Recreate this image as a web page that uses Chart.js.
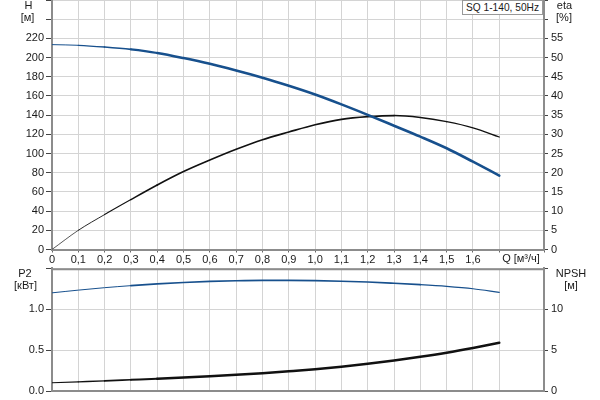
<!DOCTYPE html>
<html>
<head>
<meta charset="utf-8">
<script src="https://cdn.jsdelivr.net/npm/chart.js@4/dist/chart.umd.min.js"></script>
<style>
  html, body { margin:0; padding:0; background:#fff; }
  #wrap { position:relative; width:600px; height:400px; overflow:hidden; font-family:"Liberation Sans", Arial, sans-serif; color:#1a1a1a; }
  canvas { position:absolute; left:0; }
  .t { position:absolute; font-size:11px; line-height:1; white-space:nowrap; transform:translate(-50%,-50%); }
  #legend { position:absolute; left:462px; top:0px; width:81px; height:15px; border:1px solid #999; background:#fff; font-size:10.2px; line-height:13px; padding-left:3px; box-sizing:border-box; white-space:nowrap; }
</style>
</head>
<body>
<div id="wrap">
  <canvas id="top" width="600" height="268" style="top:0;width:600px;height:268px"></canvas>
  <canvas id="bot" width="600" height="140" style="top:260px;width:600px;height:140px"></canvas>
  <div class="t" style="left:28.5px;top:5px">H</div>
  <div class="t" style="left:27.5px;top:17px">[м]</div>
  <div class="t" style="left:564.5px;top:5px">eta</div>
  <div class="t" style="left:564px;top:17px">[%]</div>
  <div class="t" style="left:25px;top:273px">P2</div>
  <div class="t" style="left:25.5px;top:285px">[кВт]</div>
  <div class="t" style="left:571px;top:273px">NPSH</div>
  <div class="t" style="left:571px;top:285px">[м]</div>
  <div class="t" style="left:521px;top:258px">Q [м³/ч]</div>
  <div id="legend">SQ 1-140, 50Hz</div>
</div>
<script>
// ---- data ----
const Q    = [0, 0.1, 0.2, 0.3, 0.4, 0.5, 0.6, 0.7, 0.8, 0.9, 1.0, 1.1, 1.2, 1.3, 1.4, 1.5, 1.6, 1.7];
const H    = [213.5, 212.8, 211, 208.5, 204.8, 199.5, 193.5, 186.5, 179, 170.6, 161.5, 151.2, 140.3, 129, 117.6, 105.5, 91.5, 77];
const ETA  = [0, 5, 9.1, 13, 16.8, 20.3, 23.3, 26.1, 28.6, 30.6, 32.5, 33.9, 34.6, 34.9, 34.4, 33.3, 31.7, 29.3];
const P2   = [1.2, 1.233, 1.263, 1.288, 1.31, 1.327, 1.34, 1.348, 1.352, 1.352, 1.349, 1.342, 1.332, 1.317, 1.3, 1.279, 1.25, 1.206];
const NPSH = [1.0, 1.12, 1.24, 1.37, 1.5, 1.65, 1.81, 1.98, 2.18, 2.41, 2.66, 2.97, 3.33, 3.74, 4.18, 4.68, 5.26, 5.9];

const Q_MAX = 1.87;
const H_MAX = 260, H_LABEL_MAX = 220;
const ETA_MAX = 65, ETA_LABEL_MAX = 55;
const P2_MAX = 1.5, P2_LABEL_MAX = 1.0;
const NPSH_MAX = 15, NPSH_LABEL_MAX = 10;
const Q_LABEL_MAX = 1.6;

const BLUE = '#17508d';
const BLACK = '#111111';
const GRID = '#d4d4d4';
const AXIS = '#8c8c8c';
const FONT = { family: '"Liberation Sans", Arial, sans-serif', size: 11 };

const pts = (ys) => Q.map((q, i) => ({ x: q, y: ys[i] }));

const fixY = (w) => (s) => { s.width = w; s.paddingTop = 0; s.paddingBottom = 0; };
const fixX = (h) => (s) => { s.height = h; s.paddingLeft = 0; s.paddingRight = 0; };

const frame = {
  id: 'frame',
  afterDatasetsDraw(chart, args, opts) {
    const a = chart.chartArea, c = chart.ctx;
    c.save();
    c.strokeStyle = AXIS;
    c.lineWidth = 2;
    c.beginPath();
    if (opts.top) { c.moveTo(a.left, a.top + 1); c.lineTo(a.right, a.top + 1); }
    c.moveTo(a.right, a.top); c.lineTo(a.right, a.bottom);
    c.stroke();
    c.restore();
  }
};

const qFmt = (v) => {
  if (v > Q_LABEL_MAX + 1e-6) return '';
  const r = Math.round(v * 10) / 10;
  return r === 0 ? '0' : r.toFixed(1).replace('.', ',');
};

const widthBy = (ranges) => (ctx) => {
  const x = ctx.p0.parsed.x;
  for (const [lim, w] of ranges) if (x < lim - 1e-6) return w;
  return ranges[ranges.length - 1][1];
};

const lineOpts = { pointRadius: 0, cubicInterpolationMode: 'monotone', borderCapStyle: 'round', borderJoinStyle: 'round' };

new Chart(document.getElementById('top'), {
  type: 'line',
  data: {
    datasets: [
      { ...lineOpts, data: pts(H), yAxisID: 'yH', borderColor: BLUE, borderWidth: 2.5,
        segment: { borderWidth: widthBy([[0.1, 1.0], [0.2, 1.3], [0.3, 1.7], [0.4, 2.2], [99, 2.6]]) } },
      { ...lineOpts, data: pts(ETA), yAxisID: 'yE', borderColor: BLACK, borderWidth: 1.6,
        segment: { borderWidth: widthBy([[0.1, 0.7], [0.2, 0.9], [0.3, 1.1], [0.4, 1.5], [1.3, 1.7], [1.5, 1.4], [99, 1.2]]) } }
    ]
  },
  options: {
    responsive: false, animation: false, events: [],
    layout: { padding: 0 },
    plugins: { legend: { display: false }, tooltip: { enabled: false }, frame: { top: false } },
    scales: {
      x: { type: 'linear', min: 0, max: Q_MAX, afterFit: fixX(18.5),
        ticks: { stepSize: 0.1, autoSkip: false, maxRotation: 0, padding: 1, color: '#1a1a1a', font: FONT, callback: qFmt },
        grid: { color: GRID, tickColor: '#666', tickLength: 3 },
        border: { color: AXIS, width: 2 } },
      yH: { position: 'left', min: 0, max: H_MAX, afterFit: fixY(52),
        ticks: { stepSize: 20, padding: 2, color: '#1a1a1a', font: FONT, callback: (v) => v <= H_LABEL_MAX ? v : '' },
        grid: { color: GRID, tickColor: '#444', tickLength: 6 },
        border: { color: AXIS, width: 2 } },
      yE: { position: 'right', min: 0, max: ETA_MAX, afterFit: fixY(56),
        ticks: { stepSize: 5, padding: 3, color: '#1a1a1a', font: FONT, callback: (v) => v <= ETA_LABEL_MAX ? v : '' },
        grid: { drawOnChartArea: false, tickColor: '#444', tickLength: 4 },
        border: { color: AXIS, width: 2 } }
    }
  },
  plugins: [frame]
});

new Chart(document.getElementById('bot'), {
  type: 'line',
  data: {
    datasets: [
      { ...lineOpts, data: pts(P2), yAxisID: 'yP', borderColor: BLUE, borderWidth: 1.4,
        segment: { borderWidth: widthBy([[0.3, 1.0], [1.4, 1.6], [99, 1.1]]) } },
      { ...lineOpts, data: pts(NPSH), yAxisID: 'yN', borderColor: BLACK, borderWidth: 2.4,
        segment: { borderWidth: widthBy([[0.1, 1.1], [0.2, 1.3], [0.3, 1.6], [0.4, 2.0], [99, 2.5]]) } }
    ]
  },
  options: {
    responsive: false, animation: false, events: [],
    layout: { padding: { top: 8.3, bottom: 0, left: 0, right: 0 } },
    plugins: { legend: { display: false }, tooltip: { enabled: false }, frame: { top: true } },
    scales: {
      x: { type: 'linear', min: 0, max: Q_MAX, afterFit: fixX(9),
        ticks: { stepSize: 0.1, autoSkip: false, display: false },
        grid: { color: GRID, drawTicks: false },
        border: { color: AXIS, width: 2 } },
      yP: { position: 'left', min: 0, max: P2_MAX, afterFit: fixY(52),
        ticks: { stepSize: 0.5, padding: 2, color: '#1a1a1a', font: FONT, callback: (v) => v <= P2_LABEL_MAX + 1e-6 ? v.toFixed(1) : '' },
        grid: { color: GRID, tickColor: '#444', tickLength: 6 },
        border: { color: AXIS, width: 2 } },
      yN: { position: 'right', min: 0, max: NPSH_MAX, afterFit: fixY(56),
        ticks: { stepSize: 5, padding: 3, color: '#1a1a1a', font: FONT, callback: (v) => v <= NPSH_LABEL_MAX ? v : '' },
        grid: { drawOnChartArea: false, tickColor: '#444', tickLength: 4 },
        border: { color: AXIS, width: 2 } }
    }
  },
  plugins: [frame]
});
</script>
</body>
</html>
